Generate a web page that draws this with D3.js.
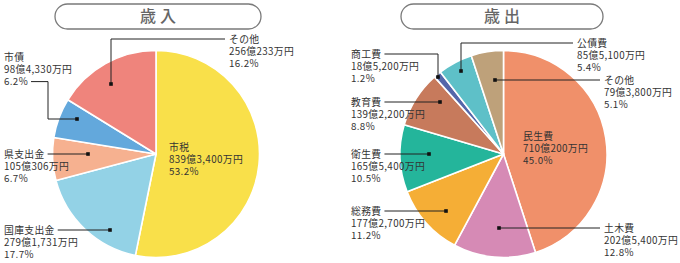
<!DOCTYPE html>
<html><head><meta charset="utf-8">
<script src="https://cdn.jsdelivr.net/npm/d3@7"></script>
<style>
html,body{margin:0;padding:0;background:#fff;}
svg{display:block;font-family:"Noto Sans CJK JP","Noto Sans",sans-serif;}
</style></head>
<body>
<svg id="c" width="680" height="263"></svg>
<script>
// ---- data ----
const incomeTitle = "歳入";
const incomeNames = ["市税","国庫支出金","県支出金","市債","その他"];
const incomeValues = [839.34, 279.1731, 105.0306, 98.433, 256.0233]; // 億円
const incomeAmounts = ["839億3,400万円","279億1,731万円","105億306万円","98億4,330万円","256億233万円"];
const incomePct = [53.2, 17.7, 6.7, 6.2, 16.2];
const incomeColors = ["#f9e04a","#93d2e6","#f6b190","#63a8dc","#ef847c"];

const expTitle = "歳出";
const expNames = ["民生費","土木費","総務費","衛生費","教育費","商工費","公債費","その他"];
const expValues = [710.02, 202.54, 177.27, 165.54, 139.22, 18.52, 85.51, 79.38];
const expAmounts = ["710億200万円","202億5,400万円","177億2,700万円","165億5,400万円","139億2,200万円","18億5,200万円","85億5,100万円","79億3,800万円"];
const expPct = [45.0, 12.8, 11.2, 10.5, 8.8, 1.2, 5.4, 5.1];
const expColors = ["#f0906a","#d68ab5","#f5ae36","#24b59b","#c77a5c","#5466a9","#5ec0c8","#bea17a"];

// ---- label layout (relative to pie centre) ----
const incomeLayout = [
  {tx:13, ty:-7, leader:null},
  {tx:-152, ty:76, side:"right", dot:[-46,76]},
  {tx:-152, ty:0, side:"right", dot:[-68,0]},
  {tx:-152, ty:-97, side:"right", lineIdx:2, knee:[-108,-35], dot:[-79,-35]},
  {tx:73, ty:-115, side:"left", knee:[-45,-115], dot:[-45,-70]}
];
const expLayout = [
  {tx:19.5, ty:-18, leader:null},
  {tx:100.5, ty:74, side:"left", dot:[-4.5,74]},
  {tx:-152.5, ty:57, side:"right", dot:[-57.5,57]},
  {tx:-152.5, ty:0, side:"right", dot:[-74.5,0]},
  {tx:-152.5, ty:-52, side:"right", dot:[-63.5,-52]},
  {tx:-152.5, ty:-100, side:"right", knee:[-65.5,-100], dot:[-65.5,-77]},
  {tx:73.5, ty:-111, side:"left", knee:[-42.5,-111], dot:[-42.5,-83]},
  {tx:100.5, ty:-74, side:"left", dot:[-8.5,-74]}
];

const svg = d3.select("#c");
const R = 103.5;
const lineH = 12.3;

function drawPie(cx, cy, box, title, names, values, amounts, pct, colors, layout) {
  const g0 = svg.append("g");
  g0.append("rect").attr("x", box[0]).attr("y", box[1]).attr("width", box[2]).attr("height", box[3])
    .attr("rx", box[3]/2).attr("fill", "#fff").attr("stroke", "#7a7a7a").attr("stroke-width", 1.3);
  g0.append("text").attr("x", box[0] + box[2]/2 + 2).attr("y", box[1] + box[3]/2 + 1)
    .attr("text-anchor", "middle").attr("dominant-baseline", "middle")
    .attr("font-size", 16).attr("letter-spacing", "4px").attr("fill", "#666").attr("font-weight", 500)
    .text(title);

  const pie = d3.pie().sort(null).value(d => d)(values);
  const arc = d3.arc().innerRadius(0).outerRadius(R);
  const g = svg.append("g").attr("transform", `translate(${cx},${cy})`);
  g.selectAll("path").data(pie).join("path")
    .attr("d", arc).attr("fill", (d, i) => colors[i])
    .attr("stroke", "#fff").attr("stroke-width", 1.6).attr("stroke-linejoin", "round");

  names.forEach((n, i) => {
    const L = layout[i];
    const lines = [n, amounts[i], pct[i].toFixed(1) + "%"];
    const nodes = lines.map((s, k) =>
      g.append("text").attr("font-size", 9.8).attr("letter-spacing", "0.35px").attr("fill", "#333")
        .attr("x", L.tx).attr("y", L.ty + k * lineH + 3.5).text(s).node());
    if (!L.side) return;
    const li = L.lineIdx || 0;
    const ly = L.ty + li * lineH;
    let start;
    if (L.side === "right") start = L.tx + nodes[li].getComputedTextLength() + 3;
    else start = L.tx - 4;
    const pts = [[start, ly]];
    if (L.knee) { pts.push([L.knee[0], ly]); pts.push(L.knee); pts.push(L.dot); }
    else pts.push([L.dot[0], ly]);
    g.append("path").attr("d", d3.line()(pts)).attr("fill", "none").attr("stroke", "#222").attr("stroke-width", 1);
    g.append("rect").attr("x", L.dot[0] - 1.8).attr("y", L.dot[1] - 1.8).attr("width", 3.6).attr("height", 3.6).attr("fill", "#111");
  });
}

drawPie(156, 154, [55, 4, 206, 25], incomeTitle, incomeNames, incomeValues, incomeAmounts, incomePct, incomeColors, incomeLayout);
drawPie(503.5, 154, [401, 4, 202, 25], expTitle, expNames, expValues, expAmounts, expPct, expColors, expLayout);
</script>
</body></html>
